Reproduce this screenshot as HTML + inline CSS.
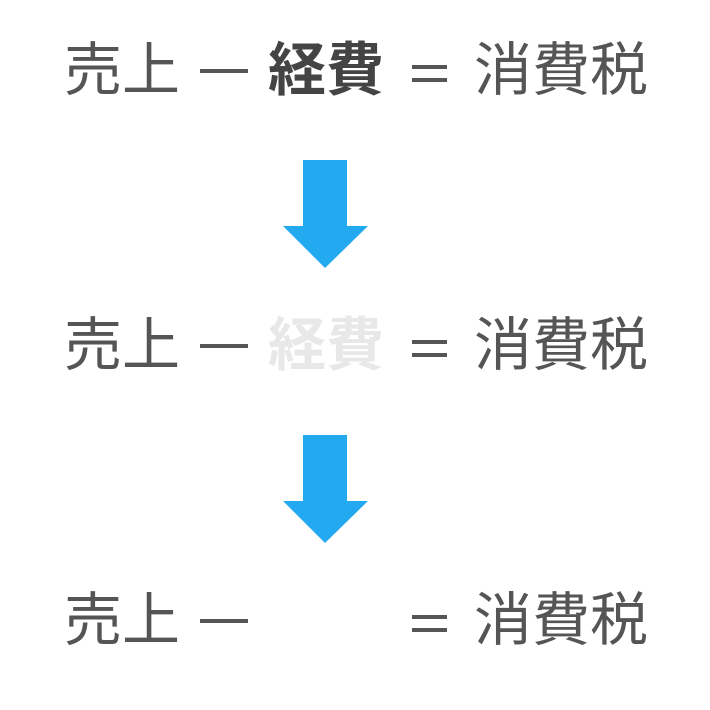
<!DOCTYPE html>
<html><head><meta charset="utf-8"><style>
body{margin:0;width:710px;height:710px;background:#fff;position:relative;overflow:hidden;font-family:"Liberation Sans","Noto Sans CJK JP",sans-serif;}
.t{position:absolute;font-size:58px;line-height:58px;color:#555;white-space:nowrap;}
.b{font-weight:bold;color:#444;}
.f{font-weight:bold;color:#e8e8e8;}
.bar{position:absolute;height:4px;background:#555;}
</style></head><body>
<div class="t" style="left:64px;top:42px">売上</div>
<div class="bar" style="left:200px;top:69px;width:48px"></div>
<div class="t b" style="left:268px;top:42px">経費</div>
<div class="bar" style="left:412px;top:65px;width:35px"></div>
<div class="bar" style="left:412px;top:78px;width:35px"></div>
<div class="t" style="left:474px;top:42px">消費税</div>

<svg style="position:absolute;left:0;top:0" width="710" height="710">
<polygon points="303,160 347,160 347,226 368,226 325,268 283,226 303,226" fill="#22a9f0"/>
<polygon points="303,435 347,435 347,501 368,501 325,543 283,501 303,501" fill="#22a9f0"/>
</svg>

<div class="t" style="left:64px;top:317px">売上</div>
<div class="bar" style="left:200px;top:344px;width:48px"></div>
<div class="t f" style="left:268px;top:317px">経費</div>
<div class="bar" style="left:412px;top:340px;width:35px"></div>
<div class="bar" style="left:412px;top:353px;width:35px"></div>
<div class="t" style="left:474px;top:317px">消費税</div>

<div class="t" style="left:64px;top:592px">売上</div>
<div class="bar" style="left:200px;top:619px;width:48px"></div>
<div class="bar" style="left:412px;top:615px;width:35px"></div>
<div class="bar" style="left:412px;top:628px;width:35px"></div>
<div class="t" style="left:474px;top:592px">消費税</div>
</body></html>
